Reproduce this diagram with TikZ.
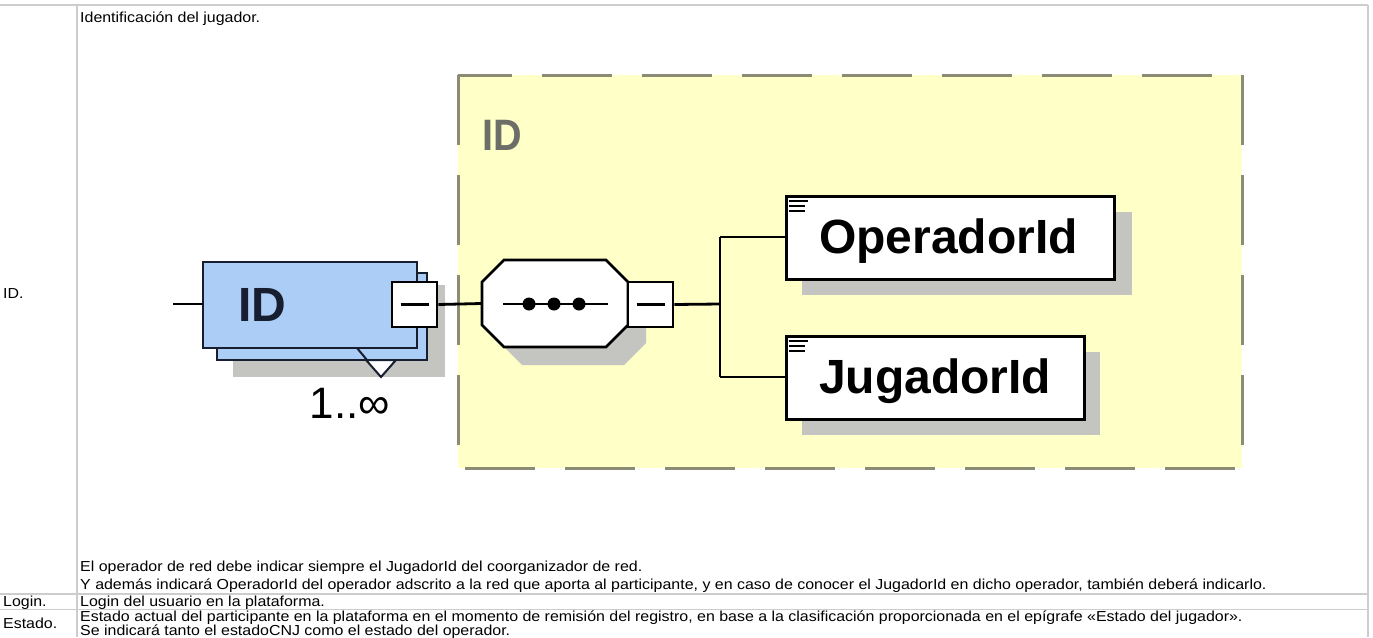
\documentclass[tikz,border=0pt]{standalone}
\usepackage{fontspec}
\setmainfont{Liberation Sans}
\newfontfamily\tabfont[FakeStretch=1.1]{Liberation Sans}
\usetikzlibrary{calc}
\definecolor{gridgray}{RGB}{205,205,205}
\definecolor{boxyellow}{RGB}{255,255,200}
\definecolor{dashcol}{RGB}{140,140,118}
\definecolor{idblue}{RGB}{172,205,245}
\definecolor{navy}{RGB}{22,30,48}
\definecolor{shadowgray}{RGB}{196,196,192}
\definecolor{labelgray}{RGB}{110,110,105}
\tikzset{
  x=1pt, y=-1pt,
  gridline/.style={draw=gridgray, line width=1.4},
  celltext/.style={anchor=base west, inner sep=0, font=\tabfont\fontsize{14.5}{14.5}\selectfont},
  wire/.style={draw=black, line width=2.8},
  elbox/.style={draw=black, line width=2.8, fill=white},
  eltext/.style={anchor=base west, inner sep=0, font=\fontsize{48}{48}\selectfont\bfseries},
}
\begin{document}
\begin{tikzpicture}
\useasboundingbox (0,0) rectangle (1373,637);
\fill[white] (0,0) rectangle (1373,637);
% table grid
\draw[gridline] (0,5) -- (1368,5);
\draw[gridline] (77,5) -- (77,637);
\draw[gridline] (1368,5) -- (1368,637);
\draw[gridline] (0,594) -- (1368,594);
\draw[gridline] (0,609.5) -- (1368,609.5);
% texts
\node[celltext] (t0) at (80,22) {Identificación del jugador.};
\node[celltext] (l1) at (3,298) {ID.};
\node[celltext] (t1) at (80,571) {El operador de red debe indicar siempre el JugadorId del coorganizador de red.};
\node[celltext] (t2) at (80,589) {Y además indicará OperadorId del operador adscrito a la red que aporta al participante, y en caso de conocer el JugadorId en dicho operador, también deberá indicarlo.};
\node[celltext] (l2) at (3,606) {Login.};
\node[celltext] (t3) at (80,606) {Login del usuario en la plataforma.};
\node[celltext] (l3) at (3,628.5) {Estado.};
\node[celltext] (t4) at (80,621.5) {Estado actual del participante en la plataforma en el momento de remisión del registro, en base a la clasificación proporcionada en el epígrafe «Estado del jugador».};
\node[celltext] (t5) at (80,635) {Se indicará tanto el estadoCNJ como el estado del operador.};
% dashed group box
\draw[draw=dashcol, line width=3, fill=boxyellow, dash pattern=on 70 off 30] (458,75) rectangle (1242,468);
\node[anchor=base west, inner sep=0, text=labelgray, font=\fontsize{44}{44}\selectfont\bfseries, xscale=0.9] (grp) at (482,150) {ID};
% ID element
\coordinate (in) at (173,304);
\fill[shadowgray] (233,285) rectangle (445,377);
\draw[draw=navy, line width=2.8, fill=idblue] (217,273) rectangle (427,360);
\draw[draw=navy, line width=2.8, fill=idblue] (203,262) rectangle (417,348);
\node[anchor=base west, inner sep=0, text=navy, font=\fontsize{48}{48}\selectfont\bfseries] (idt) at (238,321) {ID};
\draw[draw=navy, line width=2, fill=white] (366,360) -- (396,360) -- (381,377) -- cycle;
\draw[draw=navy, line width=2] (357,348) -- (367,360);
\node[elbox, minimum width=45, minimum height=45, inner sep=0] (sq1) at (414.5,304.5) {};
\draw[line width=2.4] ($(sq1.center)+(-14,0)$) -- ($(sq1.center)+(14,0)$);
\draw[wire] (in) -- (203,304);
\node[anchor=base, inner sep=0, font=\fontsize{44}{44}\selectfont] (occ) at (350,418) {1..∞};
% sequence compositor
\fill[shadowgray] (522,278) -- (624,278) -- (646,300) -- (646,343) -- (624,365) -- (522,365) -- (500,343) -- (500,300) -- cycle;
\node[inner sep=0, minimum width=146, minimum height=87] (seq) at (555,303.5) {};
\draw[elbox] (504,260) -- (606,260) -- (628,282) -- (628,325) -- (606,347) -- (504,347) -- (482,325) -- (482,282) -- cycle;
\draw[line width=2.4] (503,304) -- (608,304);
\foreach \d in {529,554,579} \fill (\d,304) circle (6.5);
\node[elbox, minimum width=45, minimum height=45, inner sep=0] (sq2) at (650.5,304.5) {};
\draw[line width=2.4] ($(sq2.center)+(-14,0)$) -- ($(sq2.center)+(14,0)$);
\draw[wire] (sq1.east) -- (seq.west);
% branch
\coordinate (br) at (720,304);
\coordinate (brt) at (720,237);
\coordinate (brb) at (720,377);
\draw[wire] (sq2.east) -- (br);
\draw[wire] (brt) -- (brb);
% OperadorId
\fill[shadowgray] (802,212) rectangle (1132,295);
\node[elbox, anchor=north west, minimum width=328, minimum height=83, inner sep=0] (op) at (785,195) {};
\node[eltext] at (819,253) {OperadorId};
\foreach \yy/\w in {201/19,206/16,211/16} \draw[line width=2] (789,\yy) -- ++(\w,0);
% JugadorId
\fill[shadowgray] (802,352) rectangle (1100,435);
\node[elbox, anchor=north west, minimum width=298, minimum height=83, inner sep=0] (jg) at (785,335) {};
\node[eltext] at (819,393) {JugadorId};
\foreach \yy/\w in {341/19,346/16,351/16} \draw[line width=2] (789,\yy) -- ++(\w,0);
\draw[wire] (brt) -- (op.west |- brt);
\draw[wire] (brb) -- (jg.west |- brb);
\end{tikzpicture}
\end{document}
